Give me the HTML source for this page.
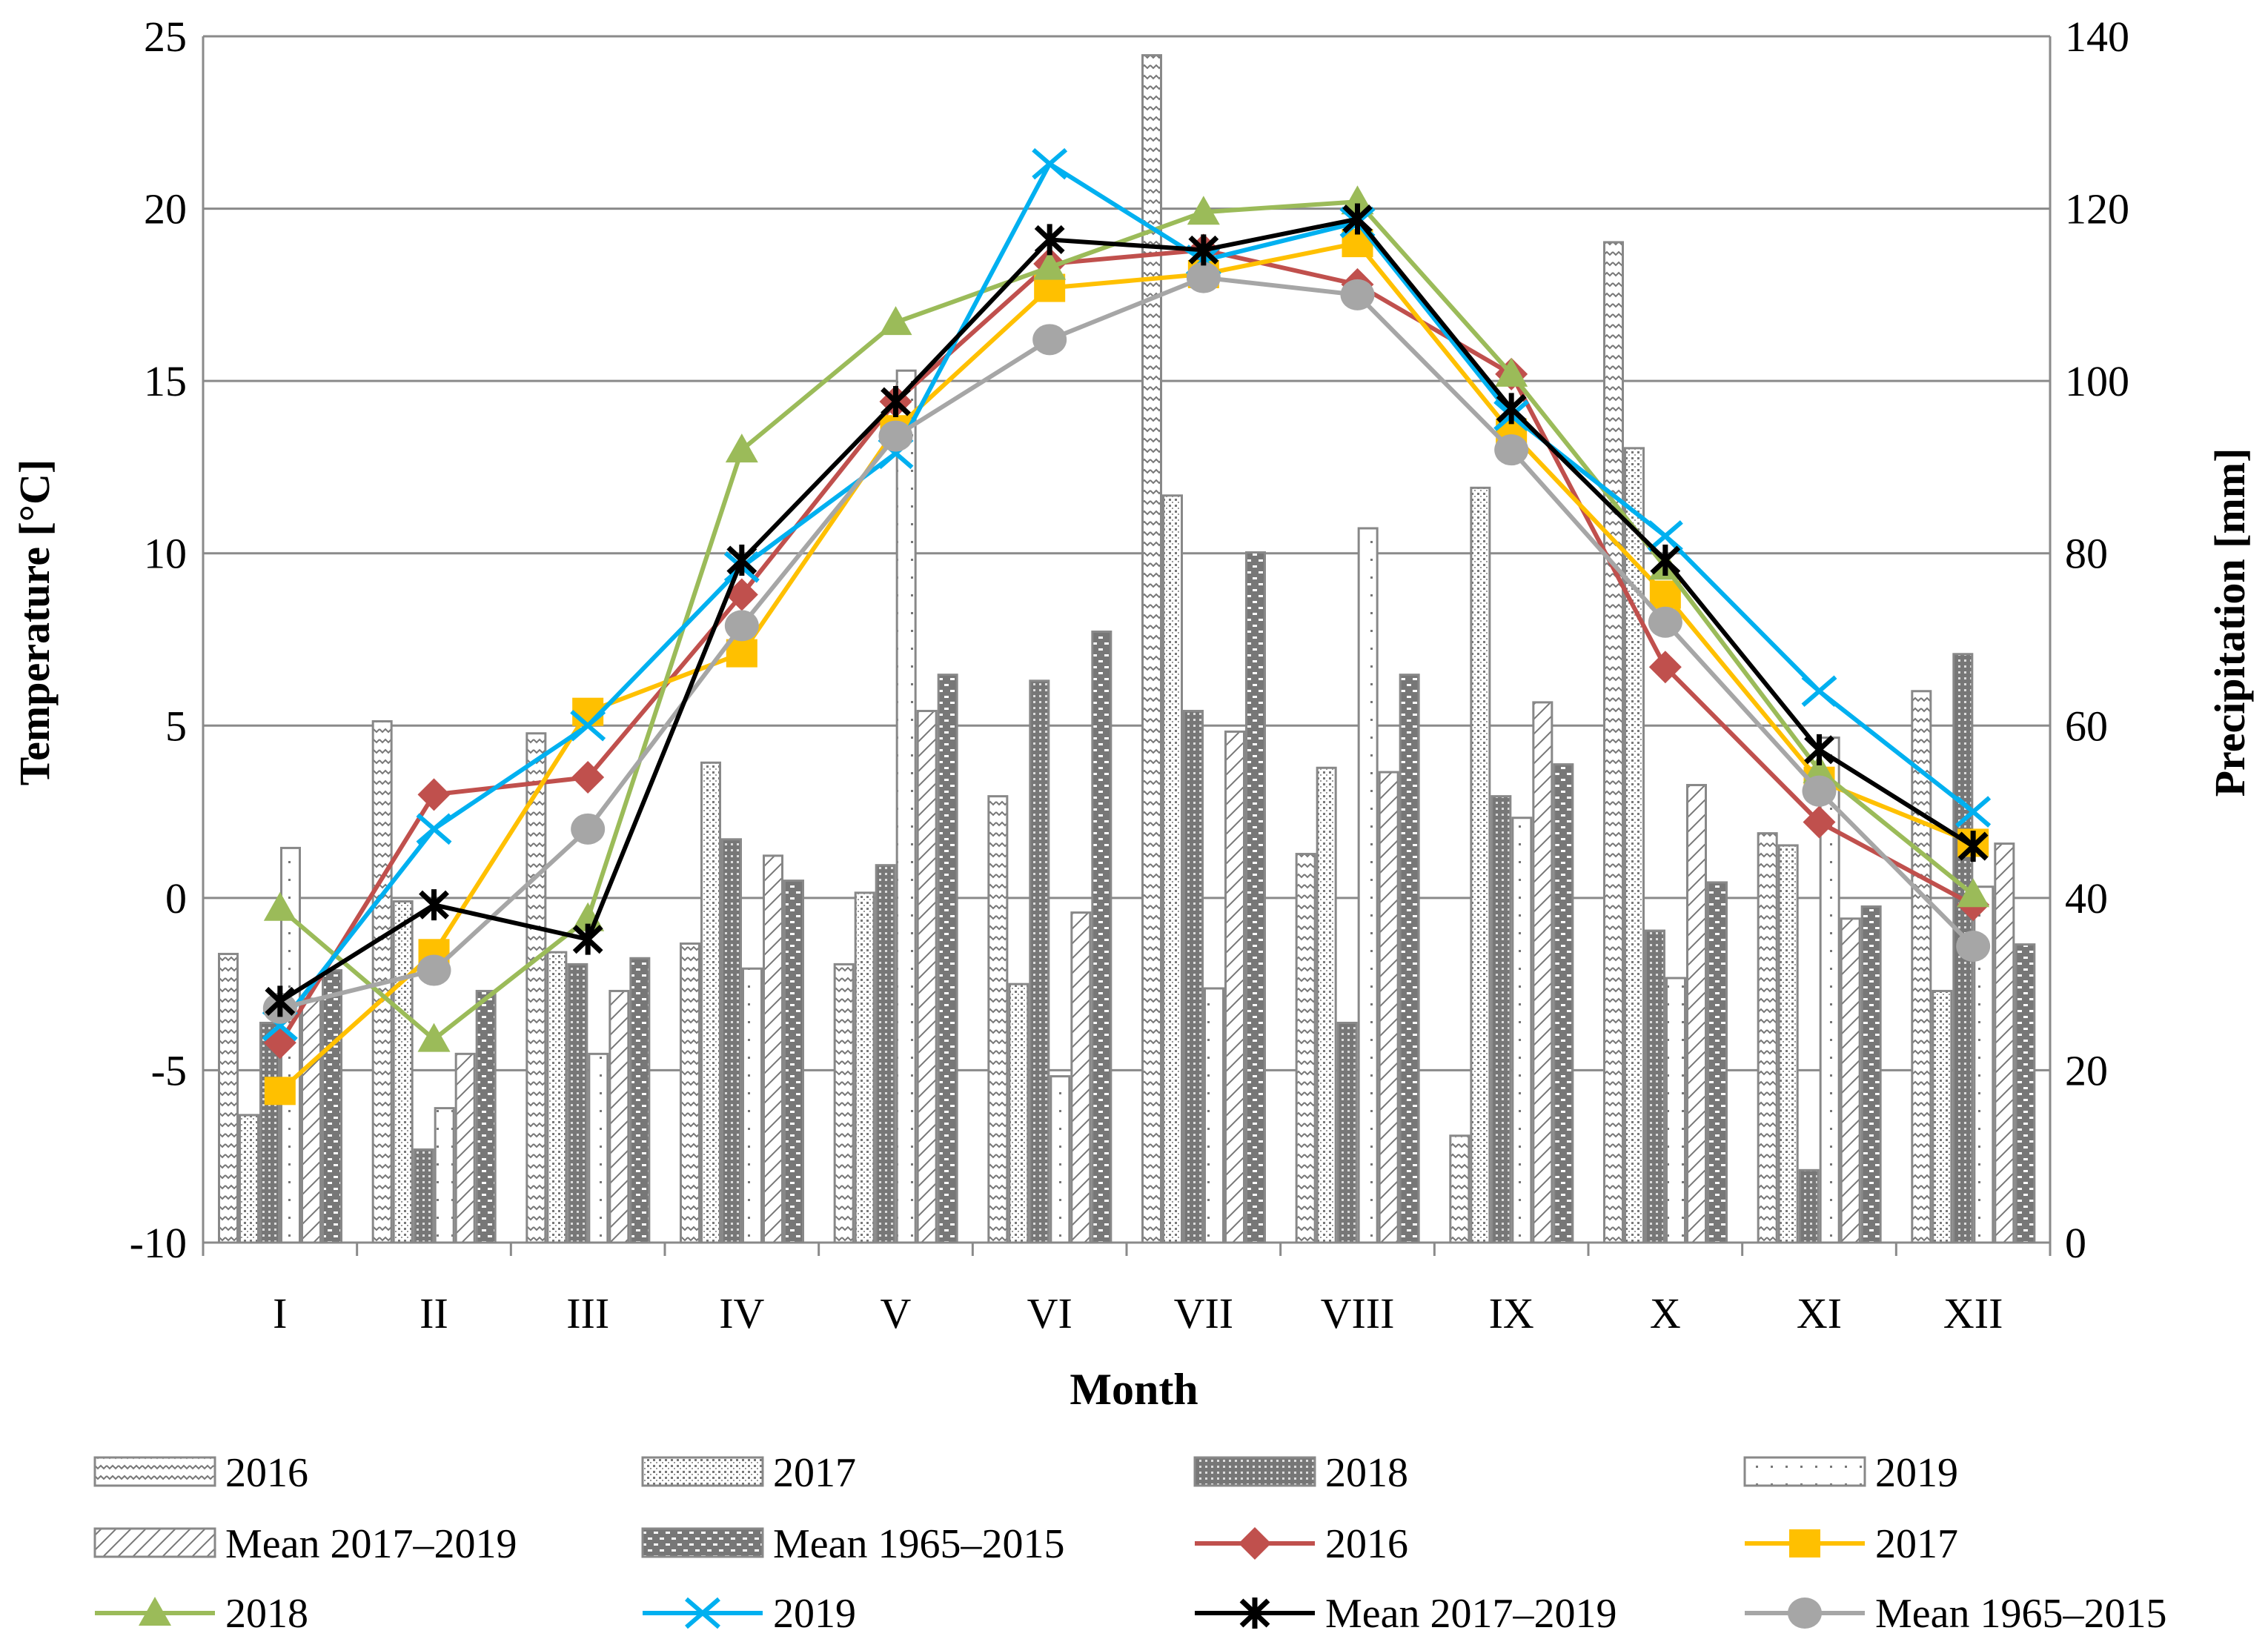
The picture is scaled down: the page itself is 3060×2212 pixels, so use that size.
<!DOCTYPE html>
<html><head><meta charset="utf-8"><style>
html,body{margin:0;padding:0;background:#fff}
svg{display:block}
text{font-family:"Liberation Serif",serif;fill:#000}
</style></head><body>
<svg id="chart" width="3060" height="2212" viewBox="0 0 3060 2212" xmlns="http://www.w3.org/2000/svg">
<defs>
<pattern id="p2016" width="16" height="14" patternUnits="userSpaceOnUse"><rect width="16" height="14" fill="#fff"/><path d="M0 4 L4 8 L8 4 L12 8 L16 4" stroke="#777" stroke-width="2" fill="none"/></pattern>
<pattern id="p2017" width="8" height="8" patternUnits="userSpaceOnUse"><rect width="8" height="8" fill="#fff"/><rect x="1" y="1" width="3" height="3" fill="#777"/><rect x="5" y="5" width="2" height="2" fill="#999"/></pattern>
<pattern id="p2018" width="8" height="8" patternUnits="userSpaceOnUse"><rect width="8" height="8" fill="#777"/><rect x="2" y="2" width="3" height="3" fill="#ddd"/></pattern>
<pattern id="p2019" width="20" height="24" patternUnits="userSpaceOnUse"><rect width="20" height="24" fill="#fff"/><rect x="9" y="10" width="3" height="3" fill="#777"/></pattern>
<pattern id="pm17" width="20" height="20" patternUnits="userSpaceOnUse"><rect width="20" height="20" fill="#fff"/><path d="M0 20 L20 0 M-5 5 L5 -5 M15 25 L25 15" stroke="#777" stroke-width="2"/></pattern>
<pattern id="pm65" width="16" height="16" patternUnits="userSpaceOnUse"><rect width="16" height="16" fill="#777"/><rect x="2" y="3" width="6" height="3" fill="#fff"/><rect x="10" y="11" width="6" height="3" fill="#fff"/></pattern>
</defs>
<g id="grid"></g><g id="bars"></g><g id="lines"></g><g id="axes"></g><g id="legend"></g>
</svg>
<script>
const months = ["I","II","III","IV","V","VI","VII","VIII","IX","X","XI","XII"];
const tempTicks = [-10,-5,0,5,10,15,20,25];
const precTicks = [0,20,40,60,80,100,120,140];
const p2016 = [33.5,60.5,59.1,34.7,32.3,51.8,137.8,45.1,12.4,116.1,47.5,64.0];
const p2017 = [14.8,39.6,33.7,55.7,40.6,30.0,86.7,55.1,87.6,92.2,46.1,29.2];
const p2018 = [25.5,10.8,32.3,46.8,43.8,65.2,61.7,25.5,51.8,36.2,8.4,68.3];
const p2019 = [45.8,15.6,21.9,31.8,101.2,19.3,29.5,82.9,49.3,30.7,58.6,41.3];
const pM1719 = [28.3,21.9,29.2,44.9,61.7,38.3,59.3,54.6,62.7,53.1,37.6,46.3];
const pM6515 = [31.6,29.2,33.0,42.0,65.9,70.9,80.1,65.9,55.5,41.8,39.0,34.6];
const t2016 = [-4.2,3.0,3.5,8.8,14.4,18.4,18.8,17.8,15.2,6.7,2.2,-0.2];
const t2017 = [-5.6,-1.6,5.4,7.1,13.6,17.7,18.1,19.0,13.5,8.8,3.4,1.6];
const t2018 = [-0.3,-4.1,-0.6,13.0,16.7,18.3,19.9,20.2,15.2,9.6,3.7,0.1];
const t2019 = [-3.7,2.0,5.0,9.6,12.9,21.3,18.5,19.6,14.0,10.5,6.0,2.5];
const tM1719 = [-3.0,-0.2,-1.2,9.8,14.4,19.1,18.8,19.7,14.2,9.8,4.3,1.5];
const tM6515 = [-3.2,-2.1,2.0,7.9,13.4,16.2,18.0,17.5,13.0,8.0,3.1,-1.4];

const NS="http://www.w3.org/2000/svg";
const L=274,R=2766,T=49,B=1677;
const mw=(R-L)/months.length;
const yT=v=>B-(v+10)/35*(B-T);
const yP=v=>B-v/140*(B-T);
const xM=i=>L+mw*(i+0.5);
function mk(tag,attrs,parent){const e=document.createElementNS(NS,tag);for(const k in attrs)e.setAttribute(k,attrs[k]);parent.appendChild(e);return e;}
const grid=document.getElementById('grid'),bars=document.getElementById('bars'),lines=document.getElementById('lines'),axes=document.getElementById('axes'),legend=document.getElementById('legend');

tempTicks.forEach(v=>{
  const g=mk('line',{x1:L,x2:R,y1:yT(v),y2:yT(v),stroke:'#8a8a8a','stroke-width':3},grid);
  
  
  const t=mk('text',{x:L-22,y:yT(v)+20,'text-anchor':'end','font-size':58},axes);
  t.textContent=v;
  
  
});
precTicks.forEach(v=>{
  const t=mk('text',{x:R+20,y:yP(v)+20,'text-anchor':'start','font-size':58},axes);
  t.textContent=v;
  
  
});
[[L,'y-left-axis'],[R,'y-right-axis']].forEach(([x,n])=>{
  const a=mk('line',{x1:x,x2:x,y1:T,y2:B,stroke:'#8a8a8a','stroke-width':3},axes);
  
  
});
for(let i=0;i<=months.length;i++){
  const tk=mk('line',{x1:L+mw*i,x2:L+mw*i,y1:B,y2:B+18,stroke:'#8a8a8a','stroke-width':3},axes);
  
  
}
months.forEach((m,i)=>{
  const t=mk('text',{x:xM(i),y:1792,'text-anchor':'middle','font-size':58},axes);
  t.textContent=m;
  
  
});

const barSeries=[[p2016,'p2016','bar-2016'],[p2017,'p2017','bar-2017'],[p2018,'p2018','bar-2018'],[p2019,'p2019','bar-2019'],[pM1719,'pm17','bar-mean-2017-2019'],[pM6515,'pm65','bar-mean-1965-2015']];
const bw=28, gx=20;
barSeries.forEach(([arr,pat,name],s)=>{
  arr.forEach((v,i)=>{
    const x=L+mw*i+gx+s*bw;
    const r=mk('rect',{x:x+1.5,y:yP(v),width:bw-3,height:B-yP(v),fill:'url(#'+pat+')',stroke:'#888','stroke-width':3},bars);
    
    
  });
});

function marker(type,x,y,col,parent,name){
  let e;
  if(type==='diamond') e=mk('polygon',{points:`${x},${y-22} ${x+22},${y} ${x},${y+22} ${x-22},${y}`,fill:col},parent);
  else if(type==='square') e=mk('rect',{x:x-21,y:y-19,width:42,height:38,fill:col},parent);
  else if(type==='triangle') e=mk('polygon',{points:`${x},${y-22} ${x+22},${y+17} ${x-22},${y+17}`,fill:col},parent);
  else if(type==='x') e=mk('path',{d:`M${x-22} ${y-19} L${x+22} ${y+19} M${x-22} ${y+19} L${x+22} ${y-19}`,stroke:col,'stroke-width':6},parent);
  else if(type==='star') e=mk('path',{d:`M${x-18} ${y-17} L${x+18} ${y+17} M${x-18} ${y+17} L${x+18} ${y-17} M${x} ${y-21} L${x} ${y+21}`,stroke:col,'stroke-width':7},parent);
  else e=mk('ellipse',{cx:x,cy:y,rx:23,ry:21,fill:col},parent);
  
  
  return e;
}
const lineSeries=[[t2016,'#c0504d','diamond','line-2016'],[t2017,'#ffc000','square','line-2017'],[t2018,'#9bbb59','triangle','line-2018'],[t2019,'#00b0f0','x','line-2019'],[tM6515,'#a6a6a6','circle','line-mean-1965-2015'],[tM1719,'#000000','star','line-mean-2017-2019']];
lineSeries.forEach(([arr,col,mt,name])=>{
  const pl=mk('polyline',{points:arr.map((v,i)=>xM(i)+','+yT(v)).join(' '),fill:'none',stroke:col,'stroke-width':6},lines);
  
  
  arr.forEach((v,i)=>marker(mt,xM(i),yT(v),col,lines,name+'-point'));
});

let t=mk('text',{x:0,y:0,'font-size':58,'font-weight':'bold','text-anchor':'middle',transform:'translate(66,840) rotate(-90)'},axes);
t.textContent='Temperature [°C]';


t=mk('text',{x:0,y:0,'font-size':58,'font-weight':'bold','text-anchor':'middle',transform:'translate(3028,840) rotate(-90)'},axes);
t.textContent='Precipitation [mm]';


t=mk('text',{x:1530,y:1895,'font-size':60,'font-weight':'bold','text-anchor':'middle'},axes);
t.textContent='Month';



const legCols=[128,867,1612,2354], legRows=[1987,2083,2177];
const legItems=[['bar','p2016','2016'],['bar','p2017','2017'],['bar','p2018','2018'],['bar','p2019','2019'],['bar','pm17','Mean 2017–2019'],['bar','pm65','Mean 1965–2015'],['line','#c0504d','2016','diamond'],['line','#ffc000','2017','square'],['line','#9bbb59','2018','triangle'],['line','#00b0f0','2019','x'],['line','#000000','Mean 2017–2019','star'],['line','#a6a6a6','Mean 1965–2015','circle']];
legItems.forEach((it,k)=>{
  const x=legCols[k%4], y=legRows[Math.floor(k/4)];
  const g=mk('g',{},legend);
  
  
  if(it[0]==='bar'){
    mk('rect',{x:x,y:y-20,width:162,height:38,fill:'url(#'+it[1]+')',stroke:'#888','stroke-width':3},g);
  } else {
    mk('line',{x1:x,x2:x+162,y1:y,y2:y,stroke:it[1],'stroke-width':6},g);
    marker(it[3],x+81,y,it[1],g,'legend-marker');
  }
  const tx=mk('text',{x:x+176,y:y+19,'font-size':56},g);
  tx.textContent=it[2];
  
  
});
</script>
</body></html>
